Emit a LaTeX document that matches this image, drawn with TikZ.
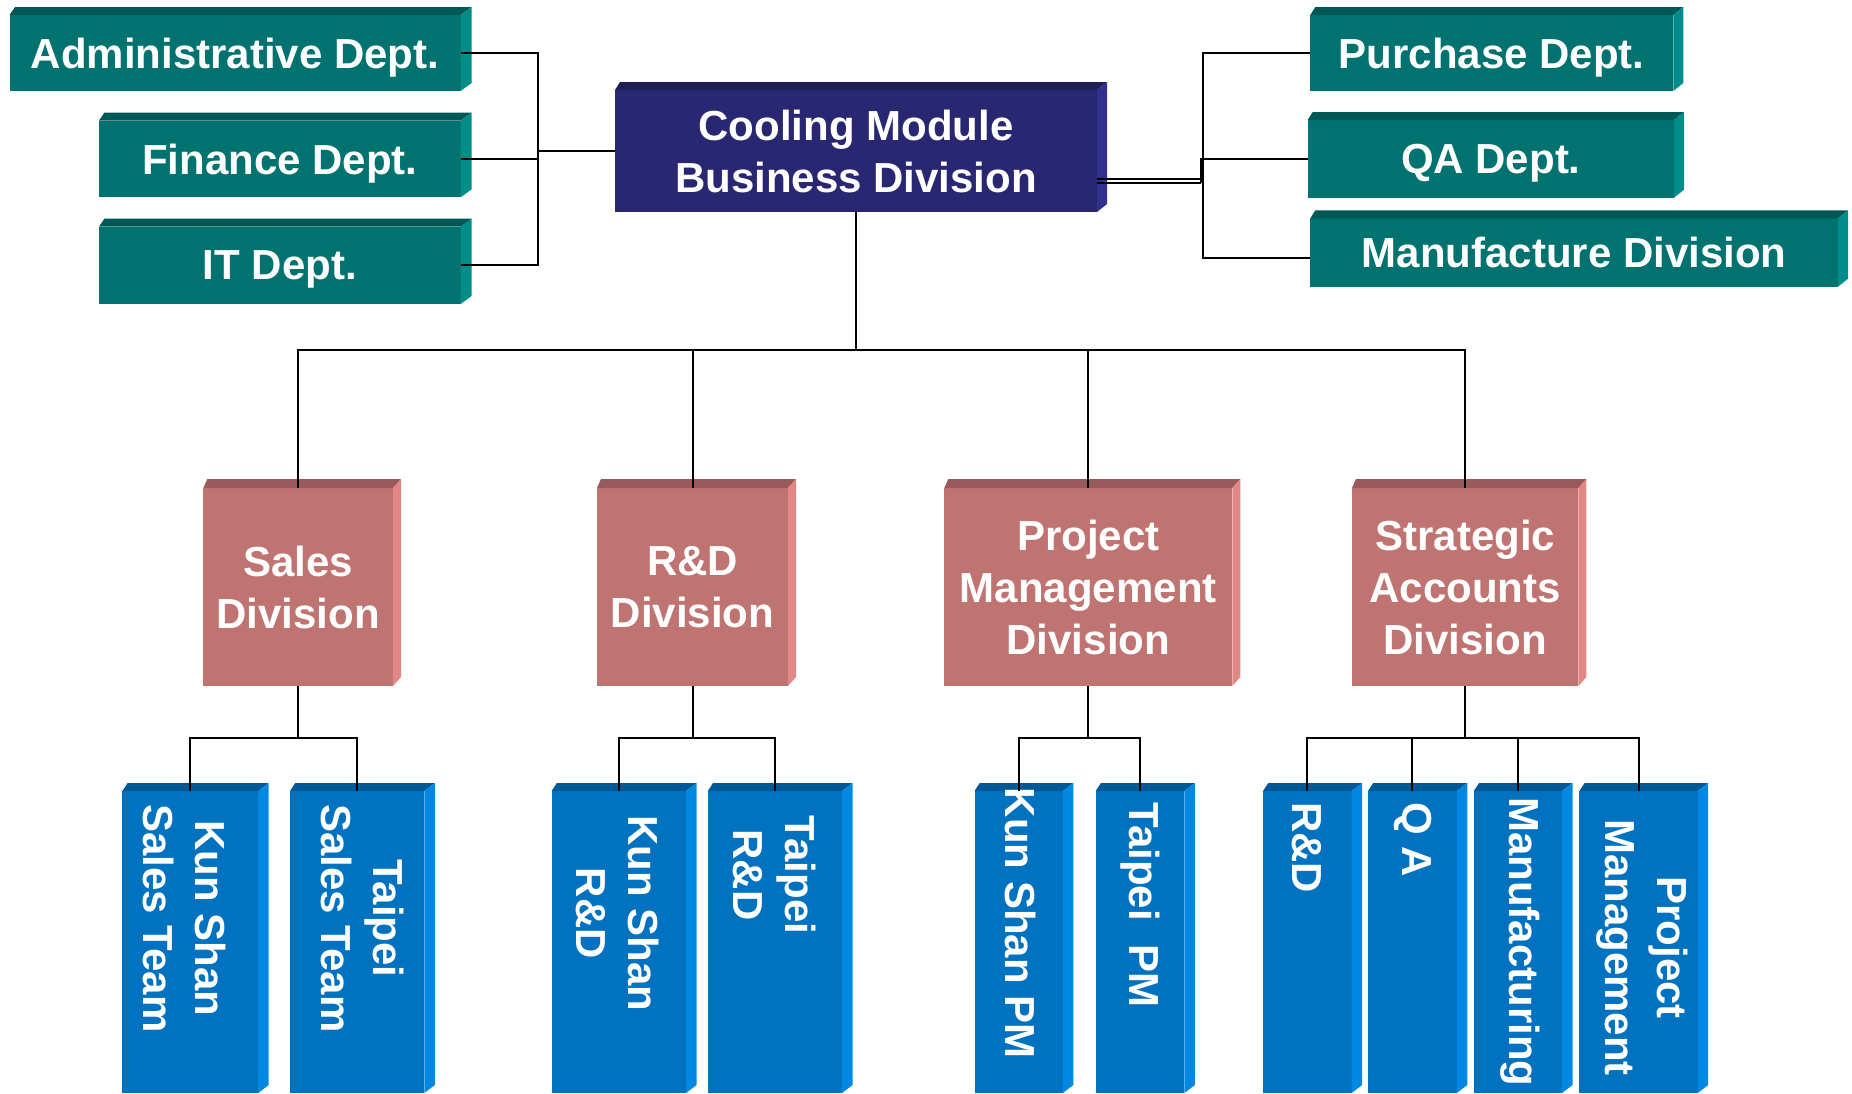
\documentclass[tikz,border=0pt]{standalone}
\usepackage{fontspec}
\setmainfont{Liberation Sans}
\definecolor{tealF}{RGB}{0,115,112}
\definecolor{tealT}{RGB}{0,88,86}
\definecolor{tealS}{RGB}{0,140,136}
\definecolor{navyF}{RGB}{41,39,113}
\definecolor{navyT}{RGB}{32,30,86}
\definecolor{navyS}{RGB}{50,48,142}
\definecolor{pinkF}{RGB}{192,116,114}
\definecolor{pinkT}{RGB}{152,90,90}
\definecolor{pinkS}{RGB}{226,135,134}
\definecolor{blueF}{RGB}{0,114,192}
\definecolor{blueT}{RGB}{0,88,150}
\definecolor{blueS}{RGB}{0,136,226}
\tikzset{
  face/.style={inner sep=0pt, outer sep=0pt, text=white, align=center,
    font=\fontsize{42}{52}\selectfont\bfseries},
  vtext/.style={inner sep=0pt, outer sep=0pt, text=white, align=center,
    rotate=-90, font=\fontsize{42}{52}\selectfont\bfseries},
  link/.style={line width=2pt, black}
}
\newcommand{\nodepth}[1]{\raisebox{0pt}[\height][0pt]{#1}}
% name, x0, y0, x1, y1, colour, dx, dy, text
\newcommand{\drawcube}[9]{%
  \node[face, fill=#6F, minimum width={#4pt-#2pt}, minimum height={#5pt-#3pt}]
    (#1) at ({(#2+#4)/2},{(#3+#5)/2}) {#9};
  \fill[#6T] (#1.north west) -- ([xshift=0.5*#7pt,yshift=#8pt]#1.north west)
    -- ([xshift=#7pt,yshift=#8pt]#1.north east) -- (#1.north east) -- cycle;
  \fill[#6S] (#1.north east) -- ([xshift=#7pt,yshift=#8pt]#1.north east)
    -- ([xshift=#7pt,yshift=#8pt]#1.south east) -- (#1.south east) -- cycle;
}
\begin{document}
\begin{tikzpicture}[x=1pt,y=-1pt]
\useasboundingbox (0,0) rectangle (1852,1093);
% top level
\drawcube{main}{615}{90}{1097}{212}{navy}{10}{8}{Cooling Module\\Business Division}
% left departments
\drawcube{adm}{9.5}{15}{460.6}{91}{teal}{11}{8}{\nodepth{Administrative Dept.}}
\drawcube{fin}{98.9}{120.7}{460.6}{197.3}{teal}{11}{8}{\nodepth{Finance Dept.}}
\drawcube{itd}{98.9}{226.7}{460.6}{304}{teal}{11}{8}{\nodepth{IT Dept.}}
% right departments
\drawcube{pur}{1310.3}{15}{1673.3}{91}{teal}{10}{8}{\nodepth{Purchase Dept.}}
\drawcube{qad}{1307.7}{120}{1674}{197.7}{teal}{10}{8}{\nodepth{QA Dept.}}
\drawcube{mfg}{1310.3}{218.3}{1838}{286.7}{teal}{10}{8}{\nodepth{Manufacture Division}}
% divisions
\drawcube{sal}{203.3}{488}{393}{686}{pink}{8}{9}{Sales\\Division}
\drawcube{rnd}{597}{488}{788}{686}{pink}{8}{9}{R\&D\\Division}
\drawcube{pmd}{944.3}{488}{1232.3}{686}{pink}{8}{9}{Project\\Management\\Division}
\drawcube{sad}{1352}{488}{1578.4}{686}{pink}{8}{9}{Strategic\\Accounts\\Division}
% teams
\drawcube{b1}{122.4}{791}{258.2}{1093}{blue}{10.5}{8}{}
\drawcube{b2}{290}{791}{424.3}{1093}{blue}{10.5}{8}{}
\drawcube{b3}{551.6}{791}{686}{1093}{blue}{10.5}{8}{}
\drawcube{b4}{707.8}{791}{842}{1093}{blue}{10.5}{8}{}
\drawcube{b5}{974.5}{791}{1062.8}{1093}{blue}{10.5}{8}{}
\drawcube{b6}{1095.7}{791}{1184.4}{1093}{blue}{10.5}{8}{}
\drawcube{b7}{1263}{791}{1351.6}{1093}{blue}{10.5}{8}{}
\drawcube{b8}{1368}{791}{1456.8}{1093}{blue}{10.5}{8}{}
\drawcube{b9}{1473.8}{791}{1562}{1093}{blue}{10.5}{8}{}
\drawcube{b10}{1579.4}{791}{1697.7}{1093}{blue}{10.5}{8}{}
% team labels
\node[vtext] (t1) at (184.4,918.4) {Kun Shan\\Sales Team};
\node[vtext] (t2) at (362.7,918.4) {Taipei\\Sales Team};
\node[vtext] (t3) at (618,913.4) {Kun Shan\\R\&D};
\node[vtext] (t4) at (774.9,875) {Taipei\\R\&D};
\node[vtext] (t5) at (1020,923.3) {Kun Shan PM};
\node[vtext] (t6) at (1140.8,905) {Taipei\ \ PM};
\node[vtext] (t7) at (1307.3,847.5) {R\&D};
\node[vtext] (t8) at (1412.6,839.7) {Q A};
\node[vtext] (t9) at (1519.8,941.7) {Manufacturing};
\node[vtext] (t10) at (1642,947.5) {Project\\Management};
% left connectors
\coordinate (lj) at (538,151);
\draw[link] (adm.east) -| (lj);
\draw[link] (fin.east) -| (lj);
\draw[link] (itd.east) -| (lj);
\draw[link] (lj) -- (main.west);
% right connectors
\coordinate (rja) at (1203,179);
\coordinate (rjb) at (1200.5,183);
\draw[link] ([yshift=-28pt]main.east) -- (rja);
\draw[link] ([yshift=-32pt]main.east) -- (rjb);
\draw[link] (pur.west) -| (rja);
\draw[link] ([yshift=-5pt]mfg.west) -| (rja);
\draw[link] (qad.west) -| (rjb);
% main to divisions
\coordinate (bus) at (856,350);
\draw[link] (main.south) -- (bus);
\draw[link] (sal.north) |- (bus);
\draw[link] (rnd.north) |- (bus);
\draw[link] (pmd.north) |- (bus);
\draw[link] (sad.north) |- (bus);
% divisions to teams
\coordinate (s1) at ([yshift=-52pt]sal.south);
\coordinate (s2) at ([yshift=-52pt]rnd.south);
\coordinate (s3) at ([yshift=-52pt]pmd.south);
\coordinate (s4) at ([yshift=-52pt]sad.south);
\draw[link] (sal.south) -- (s1);
\draw[link] (b1.north) |- (s1);
\draw[link] (b2.north) |- (s1);
\draw[link] (rnd.south) -- (s2);
\draw[link] (b3.north) |- (s2);
\draw[link] (b4.north) |- (s2);
\draw[link] (pmd.south) -- (s3);
\draw[link] (b5.north) |- (s3);
\draw[link] (b6.north) |- (s3);
\draw[link] (sad.south) -- (s4);
\draw[link] (b7.north) |- (s4);
\draw[link] (b8.north) |- (s4);
\draw[link] (b9.north) |- (s4);
\draw[link] (b10.north) |- (s4);
\end{tikzpicture}
\end{document}
